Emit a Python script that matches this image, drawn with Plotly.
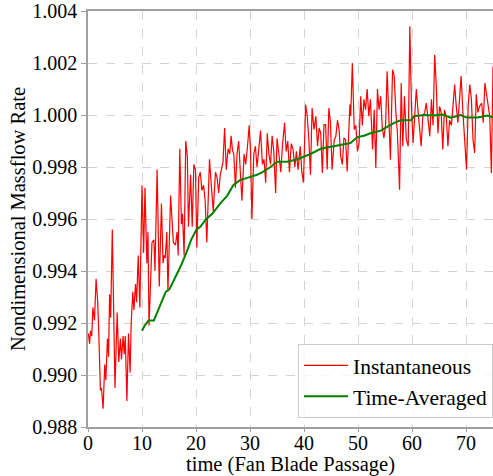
import plotly.graph_objects as go

# Instantaneous massflow
t_inst = [0.05, 0.3, 0.45, 0.7, 0.9, 1.2, 1.5, 1.8, 2.0, 2.3, 2.5, 2.8, 3.1, 3.3, 3.6, 3.8,
          4.0, 4.2, 4.5, 4.7, 5.0, 5.4, 5.7, 6.0, 6.2, 6.5, 6.7, 6.9, 7.2, 7.5, 7.8,
          8.0, 8.3, 8.5, 8.8, 9.0, 9.3, 9.6, 10.0, 10.3, 10.55, 10.9, 11.1, 11.3, 11.6, 11.85,
          12.2, 12.4, 12.8, 13.2, 13.6, 13.9, 14.1, 14.3, 14.6, 14.8,
          15.3, 15.8, 16.2, 16.5, 16.7, 17.0, 17.3, 17.5, 17.8, 18.1, 18.4, 18.6, 19.0,
          19.3, 19.6, 19.9, 20.15, 20.5, 20.8, 21.1, 21.4, 21.7, 22.0, 22.5, 22.8, 23.2,
          23.6, 23.9, 24.2, 24.5, 25.0, 25.3, 25.6, 25.95, 26.25, 26.5, 26.75, 27.0, 27.3,
          27.6, 27.9, 28.2, 28.5, 28.9, 29.2, 29.5, 29.85, 30.1, 30.35, 30.7, 31.0, 31.3,
          31.6, 31.95, 32.3, 32.6, 32.9, 33.2, 33.5, 33.8, 34.1, 34.4, 34.75, 35.0, 35.35,
          35.7, 36.0, 36.4, 36.7, 37.0, 37.3, 37.65, 37.95, 38.3, 38.6, 38.9, 39.3, 39.6,
          39.9, 40.3, 40.6, 40.9, 41.2, 41.5, 41.85, 42.2, 42.5, 42.8, 43.1, 43.4, 43.7,
          44.0, 44.3, 44.6, 44.9, 45.2, 45.6, 45.9, 46.2, 46.5, 46.8, 47.1, 47.4, 47.7,
          48.0, 48.5, 48.65, 48.95, 49.3, 49.6, 49.9, 50.2, 50.5, 50.8, 51.1, 51.4, 51.7,
          52.0, 52.3, 52.7, 53.0, 53.3, 53.6, 53.9, 54.2, 54.5, 54.8, 55.1, 55.4, 55.7,
          56.0, 56.4, 56.7, 57.0, 57.3, 57.7, 58.0, 58.3, 58.6, 58.95, 59.3, 59.6, 59.9,
          60.2, 60.5, 60.8, 61.1, 61.4, 61.7, 62.0, 62.35, 62.65, 62.95, 63.3, 63.6, 63.9,
          64.2, 64.5, 64.8, 65.1, 65.4, 65.7, 66.0, 66.35, 66.65, 66.95, 67.3, 67.6, 67.9,
          68.2, 68.5, 68.8, 69.1, 69.4, 69.75, 70.1, 70.4, 70.7, 71.0, 71.3, 71.6, 71.9,
          72.2, 72.5, 72.9, 73.2, 73.5, 73.8, 74.1, 74.4, 74.7, 75.0]
m_inst = [0.9916, 0.9912, 0.9917, 0.9915, 0.9926, 0.9921, 0.9937, 0.9928, 0.9916, 0.9894,
          0.9895, 0.9887, 0.9904, 0.9898, 0.9914, 0.9907, 0.9931, 0.9922, 0.9956, 0.9927,
          0.9895, 0.9924, 0.9905, 0.9914, 0.9906, 0.9915, 0.9908, 0.9915, 0.9890, 0.9916,
          0.9901,
          0.9920, 0.9932, 0.9925, 0.9935, 0.9928, 0.9946, 0.9926, 0.9973, 0.9947, 0.9972,
          0.9943, 0.9955, 0.9919, 0.9934, 0.9951, 0.9952, 0.9940, 0.9979, 0.9934, 0.9966,
          0.9943, 0.9946, 0.9945, 0.9955, 0.9932,
          0.9969, 0.9951, 0.9950, 0.9955, 0.9946, 0.9987, 0.9958, 0.9962, 0.9946, 0.9990,
          0.9984, 0.9957, 0.9977,
          0.9957, 0.9981, 0.9979, 0.9949, 0.9976, 0.9978, 0.9971, 0.9973, 0.9967, 0.9951,
          0.9983, 0.9974, 0.9963,
          0.9978, 0.9976, 0.9970, 0.9977, 0.9982, 0.9995, 0.9979, 0.9987, 0.9985, 0.9992,
          0.99865, 0.9985, 0.9972,
          0.9985, 0.9990, 0.9980, 0.9967, 0.9985, 0.9981, 0.9987, 0.9996, 0.9986, 0.9960,
          0.9985, 0.9988, 0.9980,
          0.9986, 0.9994, 0.9981, 0.9983, 0.9974, 0.9993, 0.9985, 0.9981, 0.9992, 0.9986,
          0.9970, 0.9991, 0.9985,
          0.9978, 0.9988, 0.9997, 0.9986, 0.9990, 0.9978, 0.9989, 0.9987, 0.9980, 0.9986,
          0.9979, 0.9988, 0.9978,
          0.9974, 1.0004, 0.99995, 0.99905, 0.9977, 1.00027, 0.99944, 0.99995, 0.9988,
          0.9995, 0.9993, 0.99777, 0.99963,
          0.99963, 0.9979, 1.00027, 0.9997, 0.9979, 0.99905, 0.99918, 0.9998, 0.99944,
          0.9984, 0.9981, 0.99912, 0.99905,
          0.99783, 1.0004, 0.99995, 1.0020, 0.99944, 0.9996, 0.9986, 0.99892, 1.00072,
          0.9996, 1.0006, 1.0002, 1.0010,
          0.99995, 1.0006, 0.99867, 1.0002, 0.99796, 1.0010, 1.0002, 1.00072, 0.9995,
          0.99912, 0.9996, 1.00168, 1.00014,
          0.99828, 1.00174, 1.0015, 1.00014, 0.9993, 0.99713, 1.00123, 0.9988, 1.00072,
          0.99905, 0.9988, 1.00341, 1.00033,
          0.99892, 1.0002, 1.0010, 1.0002, 0.9993, 0.9988, 0.99995, 1.0001, 1.00046,
          0.99995, 0.99918, 1.0006, 0.9996,
          1.00232, 1.0011, 0.9993, 1.00033, 1.0001, 0.99867, 1.0002, 0.99995, 0.9988,
          0.9998, 0.9996, 1.00033, 1.00117,
          1.00033, 0.9997, 1.0006, 1.0015, 1.0002, 0.9988, 0.9979, 1.00033, 1.00117,
          1.0006, 0.99905, 0.99854, 1.0008,
          1.0001, 1.00033, 1.00046, 0.9997, 1.00123, 1.00085, 1.00033, 0.99995, 0.99777,
          1.00187]

# Time-averaged massflow
t_avg = [10.0, 10.5, 11.2, 12.2, 13.2, 14.4, 15.1, 16.3, 17.2, 18.2, 19.1, 20.1, 20.8,
         21.9, 23.0, 24.5, 25.8, 26.9, 28.2, 29.8, 31.3, 32.3, 33.8, 35.0, 36.9, 38.8,
         40.0, 41.2, 43.1, 45.6, 47.4, 48.6, 49.9, 51.1, 52.3, 54.2, 55.4, 56.7, 57.9,
         59.8, 60.4, 62.2, 64.1, 65.6, 67.2, 69.0, 70.2, 72.1, 74.0, 75.0]
m_avg = [0.9917, 0.9919, 0.9921, 0.9921, 0.9926, 0.9932, 0.9933, 0.9938, 0.9942, 0.9947,
         0.9952, 0.9956, 0.9957, 0.9960, 0.9962, 0.9966, 0.9969, 0.9973, 0.9975, 0.9976,
         0.9977, 0.9978, 0.9980, 0.9982, 0.9982, 0.9983, 0.9984, 0.9985, 0.9987, 0.9988,
         0.99886, 0.99892, 0.99915, 0.9992, 0.9993, 0.9994, 0.99954, 0.9997, 0.9998,
         0.9998, 0.99995, 1.0000, 0.99998, 1.00002, 0.9999, 1.0000, 0.9999, 0.9999,
         0.99998, 0.9999]

x_ticks = [0, 10, 20, 30, 40, 50, 60, 70]
y_ticks = [0.988, 0.990, 0.992, 0.994, 0.996, 0.998, 1.000, 1.002, 1.004]

FONT = "Liberation Serif"

fig = go.Figure()
fig.add_trace(go.Scatter(x=t_inst, y=m_inst, mode="lines", name="Instantaneous",
                         line=dict(color="#ff0000", width=1.2)))
fig.add_trace(go.Scatter(x=t_avg, y=m_avg, mode="lines", name="Time-Averaged",
                         line=dict(color="#008000", width=2)))

axis_common = dict(showline=True, linecolor="#a0a0a0", linewidth=1.5, mirror=True,
                   showgrid=True, gridcolor="#d4d4d4", gridwidth=0.8, griddash="dash",
                   ticks="outside", tickcolor="#a0a0a0", zeroline=False,
                   tickfont=dict(family=FONT, size=20, color="black"))

fig.update_xaxes(range=[0, 75], tickvals=x_ticks, ticklen=3, ticklabelstandoff=-6,
                 title=dict(text="time (Fan Blade Passage)", standoff=3,
                            font=dict(family=FONT, size=20.5, color="black")),
                 **axis_common)
fig.update_yaxes(range=[0.988, 1.004], tickvals=y_ticks, tickformat=".3f", ticklen=5,
                 title=dict(text="Nondimensional Massflow Rate", standoff=1,
                            font=dict(family=FONT, size=20.5, color="black")),
                 **axis_common)

fig.update_layout(
    width=493, height=476,
    margin=dict(l=88, r=0, t=11, b=49, autoexpand=False),
    plot_bgcolor="white", paper_bgcolor="white",
    font=dict(family=FONT, size=20, color="black"),
    legend=dict(x=1, y=0.022, xanchor="right", yanchor="bottom",
                bgcolor="rgba(255,255,255,0.8)", bordercolor="#cccccc", borderwidth=1,
                font=dict(family=FONT, size=21.5, color="black"),
                itemwidth=44, tracegroupgap=0),
    showlegend=True,
)

fig.write_html("out.html")
